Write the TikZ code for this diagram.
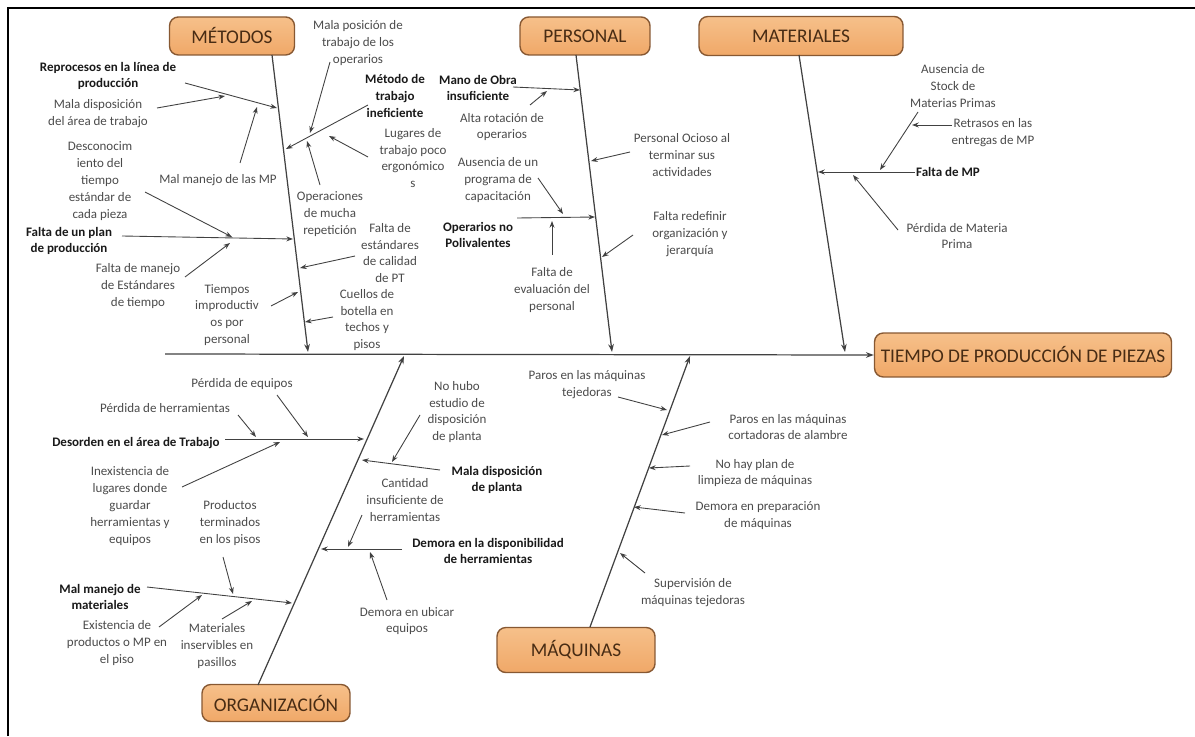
\documentclass[tikz,border=0pt]{standalone}
\usepackage{fontspec}
\setmainfont{Carlito}
\usetikzlibrary{arrows.meta}

\definecolor{boxfill}{RGB}{240,168,104}
\definecolor{boxtop}{RGB}{246,192,138}
\definecolor{boxline}{RGB}{135,88,50}
\definecolor{boxtext}{RGB}{72,44,20}
\definecolor{bonegray}{RGB}{65,65,65}
\definecolor{labgray}{RGB}{75,75,75}

\tikzset{
    catbox/.style={draw=boxline, top color=boxtop, bottom color=boxfill,
        rounded corners=5pt, line width=0.8pt, text=boxtext,
        font=\fontsize{11}{13}\selectfont, inner sep=0pt},
    cause/.style={align=center, text=labgray, inner sep=0pt,
        font=\fontsize{7.4}{9.6}\selectfont},
    maincause/.style={cause, text=black!90,
        font=\fontsize{7.4}{9.6}\selectfont\bfseries},
    bone/.style={draw=bonegray, line width=0.7pt, -{Stealth[length=4.5pt,width=3.2pt]}},
    twig/.style={draw=bonegray, line width=0.5pt, -{Stealth[length=3.8pt,width=2.8pt]}},
}

\begin{document}
\begin{tikzpicture}[x=0.02cm, y=-0.02cm]
    % Page area and frame
    \useasboundingbox (0,0) rectangle (1195,736);
    \draw[line width=1pt] (8,736) -- (8,8) -- (1195,8);

    % Category boxes and the effect
    \node[catbox, minimum width=2.5cm,  minimum height=0.76cm] (metodos)  at (232,36)  {MÉTODOS};
    \node[catbox, minimum width=2.6cm,  minimum height=0.76cm] (personal) at (585,36)  {PERSONAL};
    \node[catbox, minimum width=4.08cm, minimum height=0.78cm] (material) at (801,36)  {MATERIALES};
    \node[catbox, minimum width=2.96cm, minimum height=0.74cm] (organiz)  at (276,703) {ORGANIZACIÓN};
    \node[catbox, minimum width=3.16cm, minimum height=0.9cm]  (maquinas) at (576,650) {MÁQUINAS};
    \node[catbox, minimum width=5.94cm, minimum height=0.88cm] (efecto)   at (1023,355) {TIEMPO DE PRODUCCIÓN DE PIEZAS};

    % Spine and main bones
    \coordinate (spine) at (165,354);
    \coordinate (mt-a) at (272,55);  \coordinate (mt-b) at (308,352);
    \coordinate (pe-a) at (576,55);  \coordinate (pe-b) at (612,352);
    \coordinate (ma-a) at (799,55);  \coordinate (ma-b) at (845,352);
    \coordinate (or-a) at (258,685); \coordinate (or-b) at (404,356);
    \coordinate (mq-a) at (590,627); \coordinate (mq-b) at (690,356);
    \draw[bone] (spine) -- (efecto.west);
    \foreach \c in {mt,pe,ma,or,mq}
        \draw[bone] (\c-a) -- (\c-b);

    % Métodos
    \node[maincause] (rep)   at (108,76)  {Reprocesos en la línea de\\producción};
    \node[cause]     (malad) at (98,114)  {Mala disposición\\del área de trabajo};
    \node[cause]     (mmp)   at (218,180) {Mal manejo de las MP};
    \node[maincause] (met)   at (395,96)  {Método de\\trabajo\\ineficiente};
    \node[cause]     (malp)  at (358,43)  {Mala posición de\\trabajo de los\\operarios};
    \node[cause]     (lug)   at (413,158) {Lugares de\\trabajo poco\\ergonómico\\s};
    \node[cause]     (oper)  at (330,214) {Operaciones\\de mucha\\repetición};
    \node[cause]     (desc)  at (100,181) {Desconocim\\iento del\\tiempo\\estándar de\\cada pieza};
    \node[maincause] (fplan) at (69,241)  {Falta de un plan\\de producción};
    \node[cause]     (fman)  at (138,286) {Falta de manejo\\de Estándares\\de tiempo};
    \node[cause]     (fest)  at (390,253) {Falta de\\estándares\\de calidad\\de PT};
    \node[cause]     (timp)  at (227,315) {Tiempos\\improductiv\\os por\\personal};
    \node[cause]     (cue)   at (367,320) {Cuellos de\\botella en\\techos y\\pisos};

    \coordinate (rep-a) at (185,83);    \coordinate (rep-b) at (277,108);
    \coordinate (malad-a) at (157,108); \coordinate (malad-b) at (225,96);
    \coordinate (mmp-a) at (240,163);   \coordinate (mmp-b) at (257,107);
    \coordinate (met-a) at (368,105);   \coordinate (met-b) at (286,149);
    \coordinate (malp-a) at (330,62);   \coordinate (malp-b) at (310,133);
    \coordinate (lug-a) at (368,157);   \coordinate (lug-b) at (329,136);
    \coordinate (oper-a) at (320,185);  \coordinate (oper-b) at (307,141);
    \coordinate (desc-a) at (145,192);  \coordinate (desc-b) at (232,237);
    \coordinate (fplan-a) at (122,236); \coordinate (fplan-b) at (293,239);
    \coordinate (fman-a) at (185,277);  \coordinate (fman-b) at (230,243);
    \coordinate (fest-a) at (355,256);  \coordinate (fest-b) at (300,268);
    \coordinate (timp-a) at (271,306);  \coordinate (timp-b) at (298,292);
    \coordinate (cue-a) at (333,317);   \coordinate (cue-b) at (305,322);

    % Personal
    \node[maincause] (mano)  at (478,88)  {Mano de Obra\\insuficiente};
    \node[cause]     (alta)  at (502,127) {Alta rotación de\\operarios};
    \node[cause]     (ocio)  at (682,155) {Personal Ocioso al\\terminar sus\\actividades};
    \node[cause]     (ause)  at (498,180) {Ausencia de un\\programa de\\capacitación};
    \node[maincause] (opol)  at (478,235) {Operarios no\\Polivalentes};
    \node[cause]     (feval) at (552,290) {Falta de\\evaluación del\\personal};
    \node[cause]     (fred)  at (690,234) {Falta redefinir\\organización y\\jerarquía};

    \coordinate (mano-a) at (513,87);   \coordinate (mano-b) at (580,90);
    \coordinate (alta-a) at (530,105);  \coordinate (alta-b) at (547,91);
    \coordinate (ocio-a) at (630,152);  \coordinate (ocio-b) at (591,161);
    \coordinate (ause-a) at (538,178);  \coordinate (ause-b) at (563,214);
    \coordinate (opol-a) at (517,218);  \coordinate (opol-b) at (595,217);
    \coordinate (feval-a) at (552,255); \coordinate (feval-b) at (552,221);
    \coordinate (fred-a) at (633,235);  \coordinate (fred-b) at (602,257);

    % Materiales
    \node[maincause] (fmp)   at (948,172) {Falta de MP};
    \node[cause]     (ausst) at (953,86)  {Ausencia de\\Stock de\\Materias Primas};
    \node[cause]     (retr)  at (993,133) {Retrasos en las\\entregas de MP};
    \node[cause]     (perd)  at (957,236) {Pérdida de Materia\\Prima};

    \coordinate (fmp-a) at (915,172);   \coordinate (fmp-b) at (818,172);
    \coordinate (ausst-a) at (918,112); \coordinate (ausst-b) at (880,170);
    \coordinate (retr-a) at (952,125);  \coordinate (retr-b) at (912,125);
    \coordinate (perd-a) at (898,230);  \coordinate (perd-b) at (853,175);

    % Organización
    \node[maincause] (deso)  at (136,443) {Desorden en el área de Trabajo};
    \node[cause]     (pherr) at (165,408) {Pérdida de herramientas};
    \node[cause]     (pequ)  at (242,384) {Pérdida de equipos};
    \node[cause]     (inex)  at (130,506) {Inexistencia de\\lugares donde\\guardar\\herramientas y\\equipos};
    \node[maincause] (mman)  at (100,597) {Mal manejo de\\materiales};
    \node[cause]     (prod)  at (230,523) {Productos\\terminados\\en los pisos};
    \node[cause]     (exis)  at (117,643) {Existencia de\\productos o MP en\\el piso};
    \node[cause]     (mins)  at (217,646) {Materiales\\inservibles en\\pasillos};
    \node[maincause] (mdis)  at (497,480) {Mala disposición\\de planta};
    \node[cause]     (nohu)  at (457,412) {No hubo\\estudio de\\disposición\\de planta};
    \node[maincause] (dem)   at (488,551) {Demora en la disponibilidad\\de herramientas};
    \node[cause]     (cant)  at (405,500) {Cantidad\\insuficiente de\\herramientas};
    \node[cause]     (dubi)  at (407,621) {Demora en ubicar\\equipos};

    \coordinate (deso-a) at (225,439);  \coordinate (deso-b) at (364,439);
    \coordinate (pherr-a) at (238,415); \coordinate (pherr-b) at (256,437);
    \coordinate (pequ-a) at (277,395);  \coordinate (pequ-b) at (308,437);
    \coordinate (inex-a) at (182,487);  \coordinate (inex-b) at (280,442);
    \coordinate (mman-a) at (147,587);  \coordinate (mman-b) at (292,603);
    \coordinate (prod-a) at (223,557);  \coordinate (prod-b) at (233,594);
    \coordinate (exis-a) at (159,627);  \coordinate (exis-b) at (202,595);
    \coordinate (mins-a) at (222,619);  \coordinate (mins-b) at (252,601);
    \coordinate (mdis-a) at (440,470);  \coordinate (mdis-b) at (362,460);
    \coordinate (nohu-a) at (420,415);  \coordinate (nohu-b) at (392,462);
    \coordinate (dem-a) at (402,549);   \coordinate (dem-b) at (321,549);
    \coordinate (cant-a) at (362,515);  \coordinate (cant-b) at (348,547);
    \coordinate (dubi-a) at (387,600);  \coordinate (dubi-b) at (370,552);

    % Máquinas
    \node[cause] (ptej)  at (587,385) {Paros en las máquinas\\tejedoras};
    \node[cause] (pcor)  at (788,427) {Paros en las máquinas\\cortadoras de alambre};
    \node[cause] (nhay)  at (755,473) {No hay plan de\\limpieza de máquinas};
    \node[cause] (dprep) at (758,516) {Demora en preparación\\de máquinas};
    \node[cause] (sup)   at (693,593) {Supervisión de\\máquinas tejedoras};

    \coordinate (ptej-a) at (618,397);  \coordinate (ptej-b) at (667,410);
    \coordinate (pcor-a) at (710,422);  \coordinate (pcor-b) at (662,435);
    \coordinate (nhay-a) at (690,466);  \coordinate (nhay-b) at (649,468);
    \coordinate (dprep-a) at (685,513); \coordinate (dprep-b) at (634,507);
    \coordinate (sup-a) at (645,573);   \coordinate (sup-b) at (620,553);

    % Sub-causes feeding the bones
    \foreach \c in {rep,malad,mmp,met,malp,lug,oper,desc,fplan,fman,fest,timp,cue,
                    mano,alta,ocio,ause,opol,feval,fred,
                    fmp,ausst,retr,perd,
                    deso,pherr,pequ,inex,mman,prod,exis,mins,mdis,nohu,dem,cant,dubi,
                    ptej,pcor,nhay,dprep,sup}
        \draw[twig] (\c-a) -- (\c-b);
\end{tikzpicture}
\end{document}
